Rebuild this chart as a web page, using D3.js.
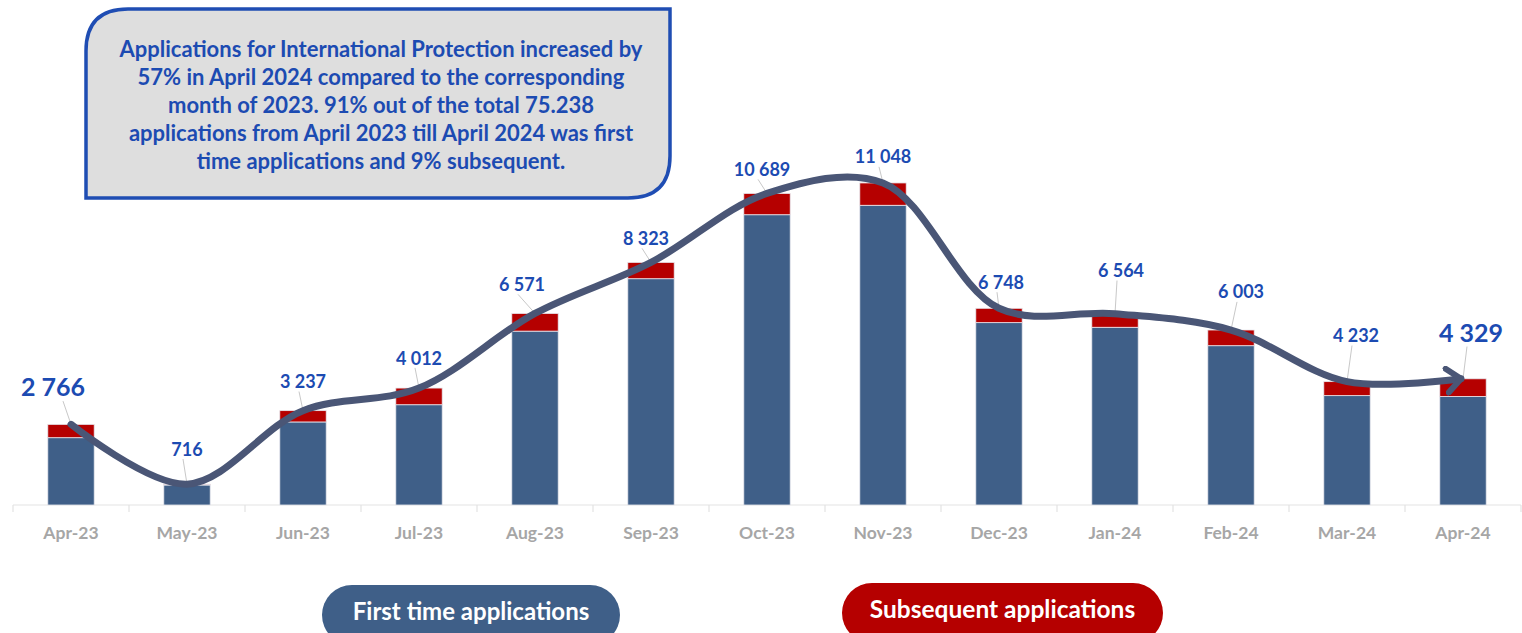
<!DOCTYPE html>
<html>
<head>
<meta charset="utf-8">
<title>Applications for International Protection</title>
<style>
  body { margin: 0; background: #fff; }
  svg { display: block; font-family: Lato, "Open Sans", sans-serif; }
</style>
</head>
<body>
<svg width="1522" height="633"></svg>
<script src="https://d3js.org/d3.v7.min.js"></script>
<script>
// data
const months = ['Apr-23','May-23','Jun-23','Jul-23','Aug-23','Sep-23','Oct-23','Nov-23','Dec-23','Jan-24','Feb-24','Mar-24','Apr-24'];
const totals = [2766, 716, 3237, 4012, 6571, 8323, 10689, 11048, 6748, 6564, 6003, 4232, 4329];
const subsequent = [457, 30, 388, 572, 606, 560, 731, 766, 492, 467, 538, 480, 607];
const firstTime = totals.map((t, i) => t - subsequent[i]);
const noteLines = [
  'Applications for International Protection increased by',
  '57% in April 2024 compared to the corresponding',
  'month of 2023. 91% out of the total 75.238',
  'applications from April 2023 till April 2024 was first',
  'time applications and 9% subsequent.'
];

// label nudges (layout only): dx, dy from bar top to label centre
const labelNudge = [[-18,-37],[0,-35],[0,-29],[0,-30],[-13,-29],[-5,-24],[-5,-24],[0,-26],[2,-26],[6,-43],[10,-38],[9,-46],[8,-46]];
const bigLabel = i => i === 0 || i === months.length - 1;

const blue = '#3f5f88', red = '#b50000', lineCol = '#4a5676', txtBlue = '#1c4bb2';
const base = 505;

const svg = d3.select('svg');

const x = d3.scaleBand().domain(months).range([13, 1521]).paddingInner(0.6).paddingOuter(0.3);
const y = d3.scaleLinear().domain([0, 12000]).range([base, base - 12000 * 0.02915]);

// axis
const axisG = svg.append('g').attr('transform', `translate(0,${base})`);
axisG.append('line').attr('x1', 13).attr('x2', 1521).attr('stroke', '#e3e3e3').attr('stroke-width', 1.2);
const step = x.step();
d3.range(months.length + 1).forEach(i => {
  const xx = 13 + i * step;
  axisG.append('line').attr('x1', xx).attr('x2', xx).attr('y1', 0).attr('y2', 7)
    .attr('stroke', '#e3e3e3').attr('stroke-width', 1.2);
});
axisG.selectAll('text.tick').data(months).join('text')
  .attr('x', d => x(d) + x.bandwidth() / 2)
  .attr('y', 34)
  .attr('text-anchor', 'middle')
  .attr('fill', '#a6a6a6')
  .attr('font-weight', 700)
  .attr('font-size', 17.5)
  .text(d => d);

// stacked bars
const rows = months.map((m, i) => ({ month: m, first: firstTime[i], sub: subsequent[i] }));
const stack = d3.stack().keys(['first', 'sub'])(rows);
const colors = { first: blue, sub: red };
svg.append('g').selectAll('g').data(stack).join('g')
  .attr('fill', d => colors[d.key])
  .selectAll('rect').data(d => d).join('rect')
  .attr('x', d => x(d.data.month))
  .attr('width', x.bandwidth())
  .attr('y', d => y(d[1]))
  .attr('height', d => y(d[0]) - y(d[1]))
  .attr('stroke', '#e8e8ee')
  .attr('stroke-width', 0.8);

// leader lines and data labels
const lab = svg.append('g');
months.forEach((m, i) => {
  const cx = x(m) + x.bandwidth() / 2;
  const top = y(totals[i]);
  const lx = cx + labelNudge[i][0], ly = top + labelNudge[i][1];
  const fs = bigLabel(i) ? 25 : 18;
  lab.append('line')
    .attr('x1', lx + (i === 0 ? 10 : -4)).attr('y1', ly + fs * 0.55)
    .attr('x2', cx).attr('y2', top)
    .attr('stroke', '#c8c8c8').attr('stroke-width', 1);
  lab.append('text')
    .attr('x', lx).attr('y', ly + fs * 0.36)
    .attr('text-anchor', 'middle')
    .attr('fill', txtBlue)
    .attr('font-weight', 700)
    .attr('font-size', fs)
    .text(d3.format(',')(totals[i]).replace(/,/g, ' '));
});

// trend curve with arrow
svg.append('defs').append('marker')
  .attr('id', 'arrow').attr('viewBox', '0 0 20 30')
  .attr('refX', 17).attr('refY', 15)
  .attr('markerWidth', 20).attr('markerHeight', 30)
  .attr('markerUnits', 'userSpaceOnUse')
  .attr('orient', 'auto')
  .append('path').attr('d', 'M3,3 L17,15 L3,27')
  .attr('fill', 'none').attr('stroke', lineCol).attr('stroke-width', 6)
  .attr('stroke-linecap', 'round').attr('stroke-linejoin', 'round');

const pts = months.map((m, i) => [x(m) + x.bandwidth() / 2, y(totals[i])]);
pts[pts.length - 1][0] -= 2;
svg.append('path')
  .attr('d', d3.line().curve(d3.curveCatmullRom.alpha(0.5))(pts))
  .attr('fill', 'none')
  .attr('stroke', lineCol)
  .attr('stroke-width', 7)
  .attr('stroke-linecap', 'round')
  .attr('marker-end', 'url(#arrow)');

// note box
const bx = 86, by = 9, bw = 584, bh = 189, r = 42;
svg.append('path')
  .attr('d', `M${bx + r},${by} H${bx + bw} V${by + bh - r} Q${bx + bw},${by + bh} ${bx + bw - r},${by + bh} H${bx} V${by + r} Q${bx},${by} ${bx + r},${by} Z`)
  .attr('fill', '#dedede')
  .attr('stroke', '#1f4db3')
  .attr('stroke-width', 3.5);
svg.append('g').selectAll('text').data(noteLines).join('text')
  .attr('x', bx + bw / 2 + 3)
  .attr('y', (d, i) => 57 + i * 28)
  .attr('text-anchor', 'middle')
  .attr('fill', txtBlue)
  .attr('font-weight', 700)
  .attr('font-size', 22)
  .text(d => d);

// legend pills
const legend = [
  { label: 'First time applications', color: blue, x: 322, w: 298, y: 585, fs: 24 },
  { label: 'Subsequent applications', color: red, x: 842, w: 321, y: 583, fs: 24.5 }
];
const lg = svg.append('g').selectAll('g').data(legend).join('g');
lg.append('rect')
  .attr('x', d => d.x).attr('y', d => d.y)
  .attr('width', d => d.w).attr('height', 60)
  .attr('rx', 30).attr('fill', d => d.color);
lg.append('text')
  .attr('x', d => d.x + d.w / 2).attr('y', d => d.y + 35)
  .attr('text-anchor', 'middle')
  .attr('fill', '#fff')
  .attr('font-weight', 700)
  .attr('font-size', d => d.fs)
  .text(d => d.label);
</script>
</body>
</html>
